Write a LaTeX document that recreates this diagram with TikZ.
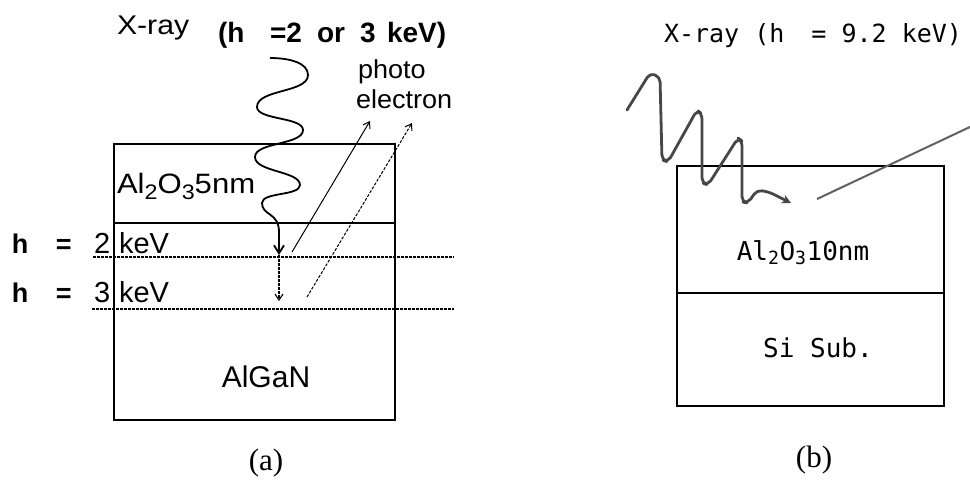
\documentclass[tikz,border=0pt]{standalone}
\usepackage{fontspec}
\setmainfont{Liberation Sans}
\newfontfamily\serifA{Liberation Serif}
\newfontfamily\monoB{DejaVu Sans Mono}
\usetikzlibrary{arrows.meta}
\newcommand{\sbx}[1]{\raisebox{-6pt}{\fontsize{21}{22}\selectfont #1}}
\begin{document}
\begin{tikzpicture}[x=1pt,y=-1pt,
  layer/.style={draw=black,line width=1.7pt},
  dotline/.style={dash pattern=on 2.5pt off 1.5pt,line width=1.1pt},
  txt/.style={inner sep=0pt,outer sep=0pt},
  lbl/.style={txt,font=\fontsize{29}{30}\selectfont},
  boldlbl/.style={txt,font=\fontsize{27}{28}\selectfont\bfseries},
  topbold/.style={txt,anchor=base west,font=\fontsize{28}{30}\selectfont\bfseries},
  monolbl/.style={txt,font=\fontsize{25}{27}\monoB},
  caption/.style={txt,font=\fontsize{31}{33}\serifA},
  stick/.style={-{Straight Barb[length=6pt,width=8pt]},line width=1pt},
  wavetip/.style={-{Straight Barb[length=8pt,width=10pt,line width=1.8pt]},line width=1.8pt},
  handline/.style={draw=black!72,line width=2.8pt,line cap=round,line join=round}
]
\useasboundingbox (0,0) rectangle (970,485);

% ---------- (a) ----------
\draw[layer] (114,144) rectangle (395,420);
\draw[layer] (114,223) -- (395,223);
\coordinate (d1a) at (93,257);  \coordinate (d1b) at (454,257);
\coordinate (d2a) at (92,309);  \coordinate (d2b) at (454,309);
\draw[dotline] (d1a) -- (d1b);
\draw[dotline] (d2a) -- (d2b);

\node[txt,anchor=base west,font=\fontsize{27}{29}\selectfont] (xa) at (117,34) {\scalebox{1.12}[1]{X-ray}};
\node[topbold] (ea1) at (218,42) {(h};
\node[topbold] (ea2) at (270,42) {=2};
\node[topbold] (ea3) at (317,42) {or};
\node[topbold] (ea4) at (360,42) {3};
\node[topbold] (ea5) at (387,42) {keV)};

\node[txt,anchor=base west,font=\fontsize{26}{27}\selectfont] (ph1) at (358,78) {\scalebox{1.04}[1]{photo}};
\node[txt,anchor=base west,font=\fontsize{26}{27}\selectfont] (ph2) at (356,108) {\scalebox{1.04}[1]{electron}};

\node[txt,anchor=base west,font=\fontsize{28}{29}\selectfont] (ox) at (117,193) {\scalebox{1.11}[1]{Al\sbx{2}O\sbx{3}5nm}};
\node[txt,anchor=base,font=\fontsize{30}{31}\selectfont] (algan) at (266,387) {AlGaN};

\node[boldlbl,anchor=base west] (h1) at (12,253) {h};
\node[boldlbl,anchor=base west] (q1) at (56,253) {=};
\node[lbl,anchor=base west] (n1) at (94,253) {2};
\node[lbl,anchor=base west] (k1) at (119,253) {keV};
\node[boldlbl,anchor=base west] (h2) at (12,302) {h};
\node[boldlbl,anchor=base west] (q2) at (56,302) {=};
\node[lbl,anchor=base west] (n2) at (94,302) {3};
\node[lbl,anchor=base west] (k2) at (119,302) {keV};

\node[caption,anchor=center] (capa) at (266,463) {(a)};

% wave (a)
\coordinate (wa0) at (270,58);
\coordinate (wa1) at (279,255);
\draw[line width=1.8pt] (wa0) .. controls (290,58) and (308,63) .. (308,75)
   .. controls (308,93) and (257,89) .. (257,107)
   .. controls (257,120) and (303,117) .. (303,130)
   .. controls (303,145) and (255,142) .. (255,157)
   .. controls (255,172) and (300,171) .. (300,185)
   .. controls (300,196) and (262,192) .. (262,203)
   .. controls (262,216) and (279,212) .. (279,232);
\draw[wavetip] (279,231) -- (wa1);
\coordinate (wa2) at (279,301);
\draw[stick,dotline] (wa1) -- (wa2);

% photoelectron arrows
\coordinate (pe1s) at (292,252); \coordinate (pe1e) at (370,121);
\coordinate (pe2s) at (307,297); \coordinate (pe2e) at (412,123);
\draw[stick] (pe1s) -- (pe1e);
\draw[stick,dash pattern=on 3pt off 1.5pt] (pe2s) -- (pe2e);

% ---------- (b) ----------
\draw[layer] (677,166) rectangle (944,406);
\draw[layer] (677,293) -- (944,293);

\node[monolbl,anchor=base west] (xb) at (664,42) {X-ray (h\hspace{12pt} = 9.2 keV)};
\node[monolbl,anchor=base,font=\fontsize{26}{28}\monoB] (oxb) at (803,260) {Al\textsubscript{2}O\textsubscript{3}10nm};
\node[monolbl,anchor=base,font=\fontsize{26}{28}\monoB] (sib) at (818,357) {Si Sub.};
\node[caption,anchor=center] (capb) at (814,460) {(b)};

\coordinate (wb0) at (627,110);
\coordinate (wb1) at (791,203);
\draw[handline,rounded corners=5pt,-{Stealth[length=9pt,width=9pt]}] (wb0) -- (650,73) -- (660,77) -- (662,160) -- (668,162)
  -- (697,110) -- (702,114) -- (702,183) -- (708,185) -- (738,138) -- (742,141) -- (742,202)
  -- (748,203) -- (757,190) -- (769,192) -- (wb1);
\coordinate (lb0) at (817,199);
\coordinate (lb1) at (972,126);
\draw[draw=black!62,line width=2pt] (lb0) -- (lb1);
\end{tikzpicture}
\end{document}
